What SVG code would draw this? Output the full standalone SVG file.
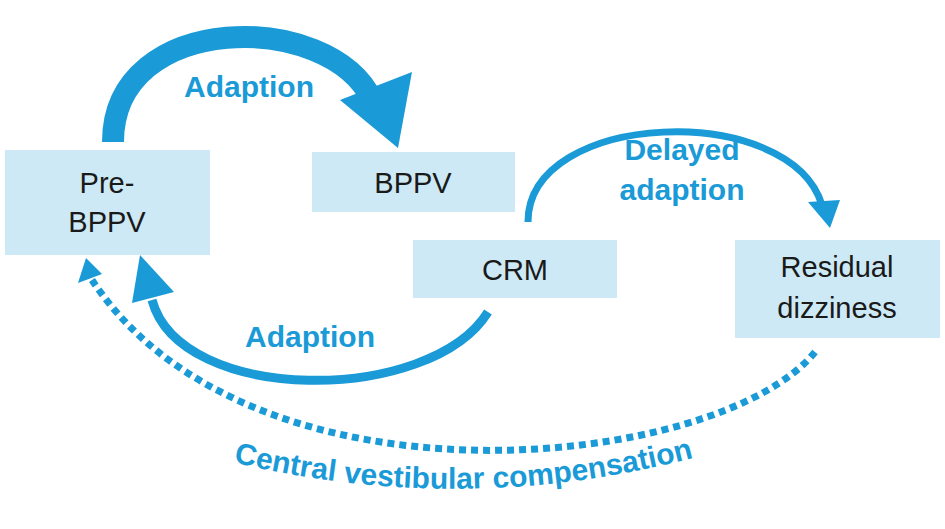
<svg xmlns="http://www.w3.org/2000/svg" width="945" height="529" viewBox="0 0 945 529">
<style>
.box{fill:#cde9f6}
.t{font-family:"Liberation Sans",Arial,sans-serif;font-size:29px;fill:#1a1a1a;text-anchor:middle}
.l{font-family:"Liberation Sans",Arial,sans-serif;font-size:30px;font-weight:bold;fill:#1a9ad6;text-anchor:middle}
.a{fill:none;stroke:#1a9ad6}
.h{fill:#1a9ad6}
</style>
<defs><path id="cp" d="M205,455 Q462,525 722,450"/></defs>
<rect width="945" height="529" fill="#fff"/>
<g id="pre"><rect class="box" x="5" y="150" width="205" height="105"/><text class="t" x="107" y="193">Pre-</text><text class="t" x="107" y="232">BPPV</text></g>
<g id="bppv"><rect class="box" x="312" y="152" width="203" height="60"/><text class="t" x="413" y="193">BPPV</text></g>
<g id="crm"><rect class="box" x="413" y="240" width="204" height="58"/><text class="t" x="515" y="280">CRM</text></g>
<g id="res"><rect class="box" x="735" y="240" width="205" height="98"/><text class="t" x="837" y="277">Residual</text><text class="t" x="837" y="318">dizziness</text></g>
<g id="connectors">
<path class="a" stroke-width="22" d="M113,142 C113,10 330,10 372,100"/>
<polygon class="h" points="340,100 412,72 398,148"/>
<path class="a" stroke-width="7" d="M528,222 C528,110 790,100 822,205"/>
<polygon class="h" points="808,202 840,200 830,228"/>
<path class="a" stroke-width="9" d="M488,312 C430,405 180,405 152,300"/>
<polygon class="h" points="132,303 174,292 140,255"/>
<path class="a" stroke-width="7" stroke-dasharray="7,5" d="M815,352 C720,470 250,520 92,280"/>
<polygon class="h" points="78,283 102,274 86,258"/>
</g>
<text class="l" x="249" y="97">Adaption</text>
<text class="l" x="682" y="160">Delayed</text>
<text class="l" x="682" y="200">adaption</text>
<text class="l" x="310" y="347">Adaption</text>
<text class="l"><textPath href="#cp" startOffset="50%">Central vestibular compensation</textPath></text>
</svg>
